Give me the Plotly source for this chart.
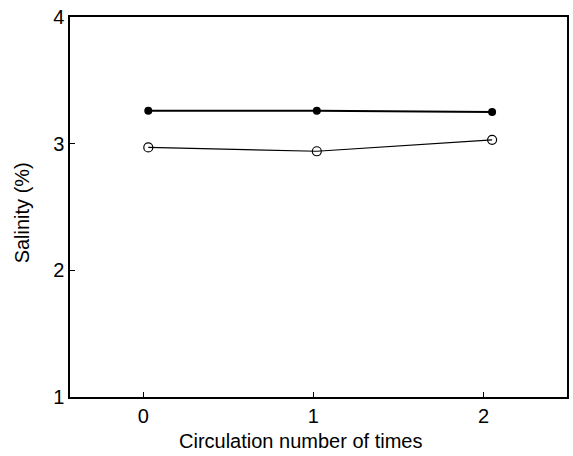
import plotly.graph_objects as go

# Data
circulation_filled = [0.03, 1.02, 2.05]
salinity_filled = [3.26, 3.26, 3.25]
circulation_open = [0.03, 1.02, 2.05]
salinity_open = [2.97, 2.94, 3.03]

x_ticks = [0, 1, 2]
y_ticks = [1, 2, 3, 4]

fig = go.Figure()
fig.add_trace(go.Scatter(
    x=circulation_filled, y=salinity_filled, mode="lines+markers",
    line=dict(color="black", width=2),
    marker=dict(symbol="circle", size=8, color="black"),
    showlegend=False))
fig.add_trace(go.Scatter(
    x=circulation_open, y=salinity_open, mode="lines+markers",
    line=dict(color="black", width=1.2),
    marker=dict(symbol="circle-open", size=9, color="black", line=dict(width=1.2)),
    showlegend=False))

tick_font = dict(family="Liberation Sans Narrow, Arial Narrow, sans-serif", size=20, color="black")

fig.update_xaxes(range=[-0.43, 2.49], tickvals=x_ticks, ticktext=[str(v) for v in x_ticks],
                 ticks="inside", ticklen=5, tickcolor="black", tickwidth=1.2,
                 showline=True, linecolor="black", linewidth=1.5, mirror=True,
                 showgrid=False, zeroline=False, tickfont=tick_font, ticklabelstandoff=0)
fig.update_yaxes(range=[1, 4], tickvals=y_ticks, ticktext=[str(v) for v in y_ticks],
                 ticks="inside", ticklen=5, tickcolor="black", tickwidth=1.2,
                 showline=True, linecolor="black", linewidth=1.5, mirror=True,
                 showgrid=False, zeroline=False, tickfont=tick_font, ticklabelstandoff=0)

title_font = dict(family="Liberation Sans, Arial, sans-serif", size=20, color="black")
fig.add_annotation(text="Circulation number of times", xref="paper", yref="paper",
                   x=0.463, y=-0.116, xanchor="center", yanchor="middle",
                   showarrow=False, font=title_font)
fig.add_annotation(text="Salinity (%)", xref="paper", yref="paper",
                   x=-0.096, y=0.484, xanchor="center", yanchor="middle",
                   textangle=-90, showarrow=False, font=title_font)

fig.update_layout(width=573, height=456,
                  margin=dict(l=70, r=4, t=17, b=59),
                  paper_bgcolor="white", plot_bgcolor="white")

fig.write_html("out.html", config={"displayModeBar": False},
               post_script="document.body.style.margin='0';document.body.style.overflow='hidden';")
